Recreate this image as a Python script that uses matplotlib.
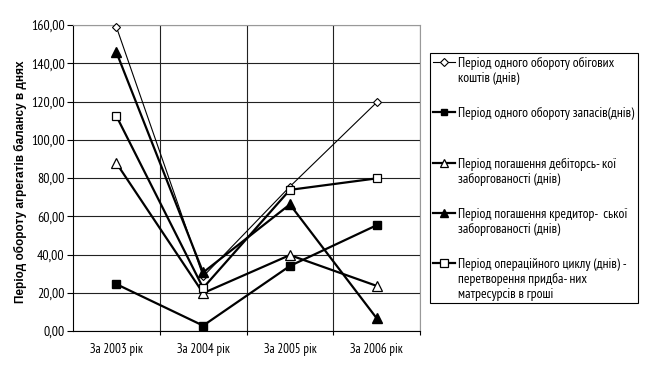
import matplotlib
matplotlib.use("Agg")
import matplotlib.pyplot as plt
from matplotlib import font_manager as fm
from matplotlib.lines import Line2D
from matplotlib.patches import Rectangle
from matplotlib.ticker import FuncFormatter, FixedLocator

categories = ["За 2003 рік", "За 2004 рік", "За 2005 рік", "За 2006 рік"]
s_obig = [159.0, 28.5, 75.5, 119.5]
s_zapas = [24.5, 2.8, 34.0, 55.3]
s_debit = [87.8, 19.8, 39.7, 23.6]
s_kredyt = [145.8, 30.6, 66.2, 6.7]
s_opercycle = [112.4, 22.5, 73.8, 79.8]
labels = [
    "Період одного обороту обігових\nкоштів (днів)",
    "Період одного обороту запасів(днів)",
    "Період погашення дебіторсь- кої\nзаборгованості (днів)",
    "Період погашення кредитор-  ської\nзаборгованості (днів)",
    "Період операційного циклу (днів) -\nперетворення придба- них\nматресурсів в гроші",
]
y_label = "Період обороту агрегатів балансу в днях"

available = {f.name for f in fm.fontManager.ttflist}
narrow_name = None
for cand in ['Liberation Sans Narrow', 'Arial Narrow', 'PT Sans Narrow', 'Roboto Condensed',
             'Open Sans Condensed', 'Noto Sans Display', 'Archivo Narrow']:
    if cand in available:
        narrow_name = cand
        break
narrow = ([narrow_name] if narrow_name else []) + ['Liberation Sans', 'DejaVu Sans']

plt.rcParams['font.family'] = ['Liberation Sans', 'DejaVu Sans']

fig = plt.figure(figsize=(6.46, 3.74), dpi=100)
ax = fig.add_axes([73/646, 1-331/374, (420-73)/646, (331-25)/374])

x = list(range(len(categories)))
styles = [
    dict(marker='D', mfc='white', mec='black', ms=4.5, lw=0.8, mew=0.8),
    dict(marker='s', mfc='black', mec='black', ms=5.5, lw=1.6),
    dict(marker='^', mfc='white', mec='black', ms=7, lw=1.6, mew=0.9),
    dict(marker='^', mfc='black', mec='black', ms=7, lw=1.6),
    dict(marker='s', mfc='white', mec='black', ms=6, lw=1.6, mew=0.9),
]
series = [s_obig, s_zapas, s_debit, s_kredyt, s_opercycle]
for s, st in zip(series, styles):
    ax.plot(x, s, color='black', zorder=3, clip_on=False, **st)

ax.set_xlim(-0.5, 3.5)
ax.set_ylim(0, 160)
ax.set_yticks(range(0, 161, 20))
ax.yaxis.set_major_formatter(FuncFormatter(lambda v, p: f"{v:.2f}".replace('.', ',')))
ax.set_xticks(x)
ax.set_xticklabels(categories, fontsize=9.3, family=narrow)
ax.tick_params(axis='x', length=0, pad=9)
ax.tick_params(axis='y', labelsize=10, length=4, width=0.8, pad=2)
for t in ax.get_yticklabels():
    t.set_family(narrow)
ax.xaxis.set_minor_locator(FixedLocator([0.5, 1.5, 2.5, 3.5]))
ax.tick_params(axis='x', which='minor', length=3, width=0.8, color='black')

ax.grid(True, axis='y', which='major', color='#222222', lw=0.8)
ax.grid(True, axis='x', which='minor', color='#222222', lw=0.8)
ax.set_axisbelow(True)
for sp in ['top', 'right']:
    ax.spines[sp].set_color('#999999')
    ax.spines[sp].set_linewidth(0.8)
ax.spines['left'].set_linewidth(0.8)
ax.spines['bottom'].set_linewidth(0.8)

fig.text(20/646, 1-182/374, y_label, rotation=90, ha='center', va='center',
         fontsize=8.5, fontweight='bold', family=['Liberation Sans', 'DejaVu Sans'])

# legend
lax = fig.add_axes([429/646, 1-303/374, 209/646, 251/374])
lax.set_xlim(429, 638)
lax.set_ylim(303, 52)
lax.axis('off')
lax.add_patch(Rectangle((429.5, 52.5), 208, 250, fill=False, ec='black', lw=0.8, clip_on=False))
ys = [62, 112, 163, 213, 263]
leg_ms = [4, 5, 6, 6, 5.5]
for lab, st, yy, lms in zip(labels, styles, ys, leg_ms):
    line_kw = {k: v for k, v in st.items() if not k.startswith('m')}
    lax.add_line(Line2D([433, 455], [yy, yy], color='black', clip_on=False, **line_kw))
    mk = {k: v for k, v in st.items() if k not in ('lw', 'ms')}
    lax.add_line(Line2D([444], [yy], color='black', linestyle='none', clip_on=False, ms=lms, **mk))
    lax.text(458, yy - 5, lab, ha='left', va='top', fontsize=9.8, family=narrow,
             linespacing=1.2)

fig.savefig("out.png", dpi=100)
